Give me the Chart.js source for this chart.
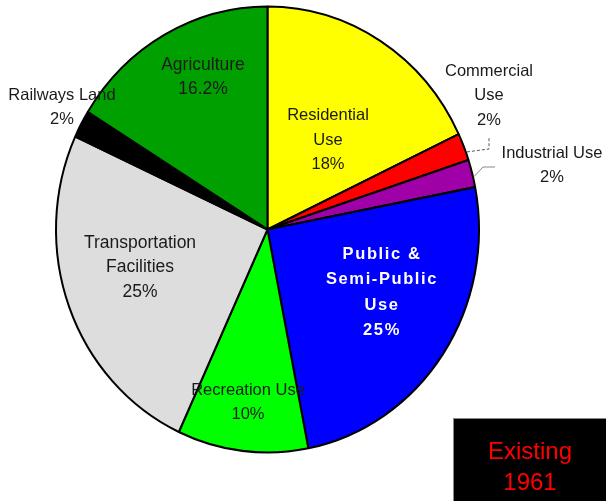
<!DOCTYPE html>
<html>
<head>
<meta charset="utf-8">
<script src="https://cdn.jsdelivr.net/npm/chart.js@4/dist/chart.umd.min.js"></script>
<style>
  html, body { margin: 0; padding: 0; background: #fff; }
  #wrap { width: 606px; height: 501px; }
</style>
</head>
<body>
<div id="wrap"><canvas id="pie" width="606" height="501"></canvas></div>
<script>
// land use shares, clockwise from 12 o'clock
const categories = ['Residential Use', 'Commercial Use', 'Industrial Use', 'Public & Semi-Public Use',
  'Recreation Use', 'Transportation Facilities', 'Railways Land', 'Agriculture'];
const shares = [18, 2, 2, 25, 10, 25, 2, 16.2];
const labelNames = [['Residential', 'Use'], ['Commercial', 'Use'], ['Industrial Use'], ['Public &', 'Semi-Public', 'Use'],
  ['Recreation Use'], ['Transportation', 'Facilities'], ['Railways Land'], ['Agriculture']];
const sliceColors = ['#FFFF00', '#FF0000', '#A000A8', '#0000FF', '#00FF00', '#DDDDDD', '#000000', '#00A000'];

// label placement: offset of text block from pie centre, line height, style
const labelLayout = [
  { dx: 60.5, dy: -89.5, lh: 24.5 },
  { dx: 221.5, dy: -134, lh: 24.5 },
  { dx: 284.5, dy: -64, lh: 24 },
  { dx: 114.5, dy: 63, lh: 25.3, bold: true, color: '#FFFFFF', spacing: '1.6px' },
  { dx: -19.5, dy: 172.5, lh: 24 },
  { dx: -127.5, dy: 38, lh: 24.5, size: 17.5 },
  { dx: -205.5, dy: -122.5, lh: 24 },
  { dx: -64.5, dy: -152.5, lh: 24, size: 17.5 }
];
const squashY = 223 / 211.5;

const ellipsePlugin = {
  id: 'ellipse',
  beforeDatasetsDraw(chart) {
    const arc = chart.getDatasetMeta(0).data[0];
    const ctx = chart.ctx;
    ctx.save();
    ctx.translate(arc.x, arc.y);
    ctx.scale(1, squashY);
    ctx.translate(-arc.x, -arc.y);
  },
  afterDatasetsDraw(chart) {
    chart.ctx.restore();
  }
};

const labelPlugin = {
  id: 'sliceLabels',
  afterDraw(chart) {
    const ctx = chart.ctx;
    const arcs = chart.getDatasetMeta(0).data;
    const cx = arcs[0].x, cy = arcs[0].y, R = arcs[0].outerRadius;
    ctx.save();

    // leader lines for the thin slices
    const edge = (i, k) => {
      const a = (arcs[i].startAngle + arcs[i].endAngle) / 2;
      return [cx + Math.cos(a) * R * k, cy + Math.sin(a) * R * k * squashY];
    };
    let p = edge(1, 1.0);
    ctx.strokeStyle = '#555';
    ctx.lineWidth = 1;
    ctx.setLineDash([3, 2]);
    ctx.beginPath();
    ctx.moveTo(p[0] + 3, p[1] + 5);
    ctx.lineTo(cx + 221.5, cy - 80.5);
    ctx.lineTo(cx + 221.5, cy - 92.5);
    ctx.stroke();
    ctx.setLineDash([]);
    p = edge(2, 1.0);
    ctx.strokeStyle = '#888';
    ctx.beginPath();
    ctx.moveTo(p[0] + 2, p[1] + 3);
    ctx.lineTo(cx + 215.5, cy - 62.5);
    ctx.lineTo(cx + 227.5, cy - 62.5);
    ctx.stroke();

    ctx.textAlign = 'center';
    ctx.textBaseline = 'middle';
    labelNames.forEach((names, i) => {
      const L = labelLayout[i];
      const lines = names.concat([shares[i] + '%']);
      ctx.font = (L.bold ? 'bold ' : '') + (L.size || 16.5) + 'px "Liberation Sans", Arial, sans-serif';
      ctx.fillStyle = L.color || '#1a1a1a';
      ctx.letterSpacing = L.spacing || '0px';
      const top = cy + L.dy - (lines.length - 1) * L.lh / 2;
      lines.forEach((t, j) => ctx.fillText(t, cx + L.dx, top + j * L.lh));
    });
    ctx.letterSpacing = '0px';

    // year badge
    ctx.fillStyle = '#000';
    ctx.fillRect(453, 418, 153, 83);
    ctx.strokeStyle = '#888';
    ctx.strokeRect(453.5, 418.5, 153, 83);
    ctx.fillStyle = '#FF0000';
    ctx.font = '24px "Liberation Sans", Arial, sans-serif';
    ctx.fillText('Existing', 530, 452);
    ctx.fillText('1961', 530, 483);
    ctx.restore();
  }
};

new Chart(document.getElementById('pie'), {
  type: 'pie',
  data: {
    labels: categories,
    datasets: [{
      data: shares,
      backgroundColor: sliceColors,
      borderColor: '#000',
      borderWidth: 2
    }]
  },
  options: {
    responsive: false,
    animation: false,
    layout: { padding: { left: 55, right: 126, top: 17, bottom: 59 } },
    plugins: {
      legend: { display: false },
      tooltip: { enabled: false }
    }
  },
  plugins: [ellipsePlugin, labelPlugin]
});
</script>
</body>
</html>
